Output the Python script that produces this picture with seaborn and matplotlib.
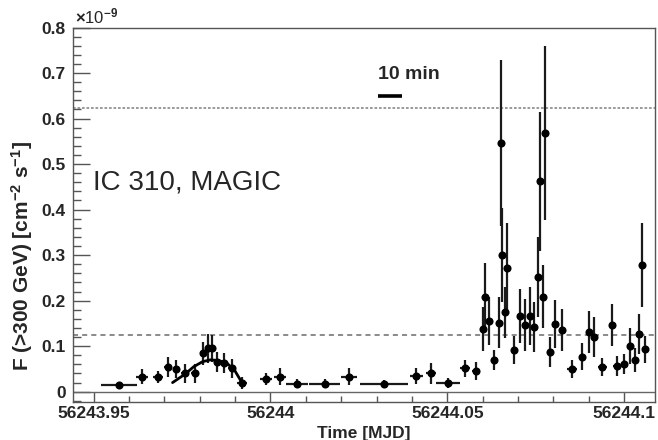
import matplotlib
matplotlib.use("Agg")
import matplotlib.pyplot as plt
import seaborn as sns
import pandas as pd

# ---- data (flux in units of 1e-9 cm^-2 s^-1) ----
mjd = [56243.9571, 56243.9637, 56243.9681, 56243.9709, 56243.9733, 56243.9759,
       56243.9786, 56243.9810, 56243.9824, 56243.9835, 56243.9849, 56243.9868,
       56243.9890, 56243.9920, 56243.9986, 56244.0026, 56244.0076, 56244.0153,
       56244.0222, 56244.0321, 56244.0413, 56244.0453, 56244.0502, 56244.0549,
       56244.0580, 56244.0601, 56244.0608, 56244.0618, 56244.0632, 56244.0646,
       56244.0653, 56244.0656, 56244.0663, 56244.0670, 56244.0690, 56244.0707,
       56244.0719, 56244.0733, 56244.0745, 56244.0756, 56244.0762, 56244.0771,
       56244.0776, 56244.0790, 56244.0806, 56244.0825, 56244.0854, 56244.0882,
       56244.0901, 56244.0915, 56244.0939, 56244.0965, 56244.0979, 56244.1000,
       56244.1016, 56244.1031, 56244.1042, 56244.1050, 56244.1059]
flux = [0.015, 0.033, 0.032, 0.055, 0.050, 0.040, 0.040, 0.084, 0.095, 0.095,
        0.066, 0.062, 0.051, 0.020, 0.028, 0.033, 0.018, 0.018, 0.033, 0.018,
        0.035, 0.040, 0.020, 0.051, 0.046, 0.138, 0.207, 0.156, 0.070, 0.152,
        0.546, 0.300, 0.174, 0.271, 0.092, 0.166, 0.147, 0.166, 0.143, 0.251,
        0.462, 0.209, 0.568, 0.087, 0.149, 0.136, 0.050, 0.077, 0.132, 0.120,
        0.054, 0.147, 0.057, 0.060, 0.101, 0.070, 0.126, 0.278, 0.093]
mjd_err = [0.0051, 0.0016, 0.0014, 0.0009, 0.0009, 0.0011, 0.0011, 0.0006, 0.0006, 0.0006,
           0.0009, 0.0009, 0.0009, 0.0014, 0.0017, 0.0017, 0.0031, 0.0044, 0.0023, 0.0069,
           0.0017, 0.0014, 0.0033, 0.0014, 0.0011, 0.0003, 0.0003, 0.0003, 0.0006, 0.0003,
           0.0003, 0.0003, 0.0003, 0.0003, 0.0009, 0.0003, 0.0003, 0.0003, 0.0003, 0.0003,
           0.0003, 0.0003, 0.0003, 0.0009, 0.0003, 0.0003, 0.0014, 0.0009, 0.0003, 0.0003,
           0.0014, 0.0003, 0.0009, 0.0009, 0.0006, 0.0006, 0.0003, 0.0003, 0.0006]
flux_err = [0.004, 0.017, 0.013, 0.022, 0.020, 0.020, 0.020, 0.026, 0.031, 0.029,
            0.022, 0.022, 0.020, 0.013, 0.013, 0.018, 0.009, 0.009, 0.018, 0.007,
            0.018, 0.022, 0.011, 0.018, 0.020, 0.048, 0.075, 0.053, 0.022, 0.055,
            0.182, 0.103, 0.057, 0.099, 0.031, 0.059, 0.057, 0.064, 0.055, 0.088,
            0.152, 0.070, 0.191, 0.033, 0.053, 0.046, 0.020, 0.029, 0.046, 0.044,
            0.020, 0.046, 0.022, 0.022, 0.040, 0.026, 0.044, 0.092, 0.029]

fit_mjd = [56243.9723, 56243.9759, 56243.9783, 56243.9808, 56243.9830,
           56243.9853, 56243.9877, 56243.9898, 56243.9920]
fit_flux = [0.020, 0.039, 0.055, 0.066, 0.070, 0.0686, 0.0624, 0.0477, 0.019]

x_ticks = [56243.95, 56244.0, 56244.05, 56244.1]
x_tick_labels = ["56243.95", "56244", "56244.05", "56244.1"]
y_ticks = [0.0, 0.1, 0.2, 0.3, 0.4, 0.5, 0.6, 0.7, 0.8]
y_tick_labels = ["0", "0.1", "0.2", "0.3", "0.4", "0.5", "0.6", "0.7", "0.8"]
level_high = 0.623
level_low = 0.125
scale_start = 56244.0303
scale_len = 10.0 / 1440.0

df = pd.DataFrame({"mjd": mjd, "flux": flux})

sns.set_style("ticks")
plt.rcParams['font.family'] = ['Liberation Sans Narrow', 'Liberation Sans', 'DejaVu Sans']
plt.rcParams['mathtext.fontset'] = 'custom'
plt.rcParams['mathtext.rm'] = 'Liberation Sans:bold'
plt.rcParams['mathtext.it'] = 'Liberation Sans:bold'
plt.rcParams['mathtext.bf'] = 'Liberation Sans:bold'

fig = plt.figure(figsize=(6.58, 4.40), dpi=100)
ax = fig.add_axes([0.1105, 0.087, 0.885, 0.8505])

ax.axhline(0, color="#666666", lw=1.0, zorder=1)
ax.axhline(level_high, color="#8a8a8a", lw=1.2, dashes=(1.6, 1.1), zorder=1)
ax.axhline(level_low, color="#8a8a8a", lw=1.4, dashes=(2.6, 2.1), zorder=1)

ax.errorbar(mjd, flux, xerr=mjd_err, yerr=flux_err, fmt='none',
            ecolor='#1a1a1a', elinewidth=1.6, capsize=0, zorder=2)
sns.scatterplot(data=df, x="mjd", y="flux", color="black", s=34,
                linewidth=0, ax=ax, zorder=3, legend=False)
sns.lineplot(x=fit_mjd, y=fit_flux, color="black", lw=2.0, sort=False,
             ax=ax, zorder=4)

# 10 min scale bar
ax.plot([scale_start, scale_start + scale_len], [0.65, 0.65], color="black",
        lw=2.6, solid_capstyle='butt')
ax.text(scale_start, 0.697, "10 min", fontsize=14, fontweight="bold",
        family=["Liberation Sans", "DejaVu Sans"], va="center", ha="left")

ax.text(0.0349, 0.587, "IC 310, MAGIC", transform=ax.transAxes, fontsize=20,
        family=["Liberation Sans", "DejaVu Sans"], va="center", ha="left")

ax.set_xlim(56243.94406, 56244.10877)
ax.set_ylim(-0.022, 0.8)

ax.set_xticks(x_ticks)
ax.set_xticklabels(x_tick_labels, fontsize=12.5, fontweight="bold")
ax.set_yticks(y_ticks)
ax.set_yticklabels(y_tick_labels, fontsize=12.5, fontweight="bold")
ax.xaxis.set_minor_locator(matplotlib.ticker.MultipleLocator(0.01))
ax.yaxis.set_minor_locator(matplotlib.ticker.MultipleLocator(0.02))

ax.tick_params(axis="y", which="major", direction="in", length=12, width=1,
               color="#555555", pad=5)
ax.tick_params(axis="y", which="minor", direction="in", length=5.5, width=1,
               color="#555555")
ax.tick_params(axis="x", which="major", direction="in", length=7, width=1,
               color="#555555", pad=3)
ax.tick_params(axis="x", which="minor", direction="in", length=4, width=1,
               color="#555555")

for sp in ax.spines.values():
    sp.set_color("#555555")
    sp.set_linewidth(1.0)

ax.set_xlabel("Time [MJD]", fontsize=12.5, fontweight="bold", labelpad=0)
ax.xaxis.set_label_coords(0.5, -0.065)
ax.set_ylabel(r"F (>300 GeV) [cm$^{-2}$ s$^{-1}$]", fontsize=15, fontweight="bold",
              family=["Liberation Sans", "DejaVu Sans"])
ax.yaxis.set_label_coords(-0.064, 0.39)

ax.text(0.004, 1.002, r"$\times$10$^{-9}$", transform=ax.transAxes, fontsize=12,
        va="bottom", ha="left")

fig.savefig("out.png", dpi=100)
